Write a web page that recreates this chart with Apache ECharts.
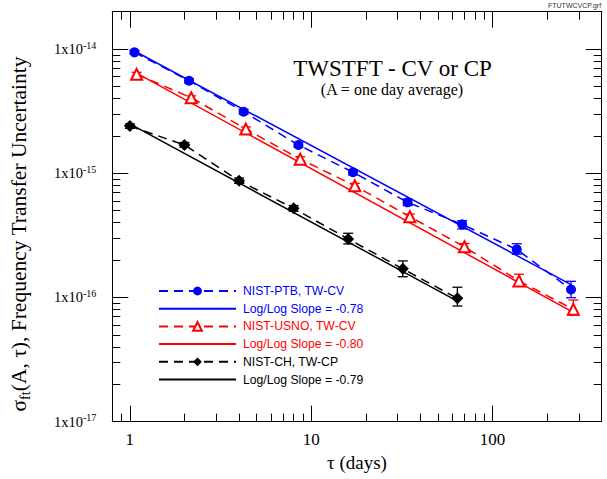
<!DOCTYPE html>
<html><head><meta charset="utf-8">
<script src="https://cdn.jsdelivr.net/npm/echarts@6/dist/echarts.min.js"></script>
<style>html,body{margin:0;padding:0;background:#fff}#c{width:607px;height:479px}</style>
</head><body><div id="c"></div>
<script>
// ---- tick values / labels ----
const xMajorTicks = [1, 10, 100];
const xMinorTicks = [0.9, 2, 3, 4, 5, 6, 7, 8, 9, 20, 30, 40, 50, 60, 70, 80, 90, 200, 300];
const yMajorTicks = [1e-16, 1e-15, 1e-14];
const yLabelTicks = [1e-17, 1e-16, 1e-15, 1e-14];
const yMinorTicks = [2e-17, 3e-17, 4e-17, 5e-17, 6e-17, 7e-17, 8e-17, 9e-17,
                     2e-16, 3e-16, 4e-16, 5e-16, 6e-16, 7e-16, 8e-16, 9e-16,
                     2e-15, 3e-15, 4e-15, 5e-15, 6e-15, 7e-15, 8e-15, 9e-15];

// ---- NIST-PTB, TW-CV ----
const ptbTau   = [1.06, 2.12, 4.24, 8.5, 17, 34, 68, 136, 271];
const ptbSigma = [9.42e-15, 5.56e-15, 3.13e-15, 1.69e-15, 1.02e-15, 5.84e-16, 3.88e-16, 2.44e-16, 1.16e-16];
const ptbLo    = [9.1e-15, 5.35e-15, 3.0e-15, 1.62e-15, 0.97e-15, 5.5e-16, 3.56e-16, 2.23e-16, 0.996e-16];
const ptbHi    = [9.75e-15, 5.78e-15, 3.27e-15, 1.77e-15, 1.07e-15, 6.2e-16, 4.15e-16, 2.71e-16, 1.35e-16];
const ptbFitTau = [1.06, 271];
const ptbFitSigma = [9.65e-15, 1.27e-16];

// ---- NIST-USNO, TW-CV ----
const usnoTau   = [1.09, 2.18, 4.36, 8.7, 17.4, 35, 70, 140, 279];
const usnoSigma = [6.26e-15, 4.06e-15, 2.27e-15, 1.30e-15, 7.94e-16, 4.47e-16, 2.56e-16, 1.36e-16, 8.03e-17];
const usnoLo    = [6.05e-15, 3.92e-15, 2.19e-15, 1.25e-15, 7.6e-16, 4.25e-16, 2.43e-16, 1.24e-16, 7.23e-17];
const usnoHi    = [6.5e-15, 4.2e-15, 2.36e-15, 1.36e-15, 8.3e-16, 4.7e-16, 2.72e-16, 1.54e-16, 9.54e-17];
const usnoFitTau = [1.09, 279];
const usnoFitSigma = [6.4e-15, 7.6e-17];

// ---- NIST-CH, TW-CP ----
const chTau   = [1, 2, 4, 8, 16, 32, 64];
const chSigma = [2.40e-15, 1.69e-15, 8.71e-16, 5.22e-16, 2.96e-16, 1.70e-16, 9.85e-17];
const chLo    = [2.3e-15, 1.62e-15, 8.3e-16, 4.95e-16, 2.70e-16, 1.47e-16, 8.54e-17];
const chHi    = [2.5e-15, 1.77e-15, 9.15e-16, 5.5e-16, 3.29e-16, 1.97e-16, 1.21e-16];
const chFitTau = [1, 64];
const chFitSigma = [2.5e-15, 9.35e-17];

const names = ['NIST-PTB, TW-CV', 'Log/Log Slope = -0.78', 'NIST-USNO, TW-CV',
               'Log/Log Slope = -0.80', 'NIST-CH, TW-CP', 'Log/Log Slope = -0.79'];

const SERIF = 'Liberation Serif';
const SANS = 'Liberation Sans';
const BLUE = '#0000ff', RED = '#ff0000', BLACK = '#000000';

const zip = (a, b) => a.map((v, i) => [v, b[i]]);

function xAx(pos, ticks, len, labels) {
  return {
    type: 'log', logBase: 10, min: 0.8, max: 400, position: pos,
    axisLine: { show: true, onZero: false, lineStyle: { color: '#000', width: 1 } },
    axisTick: { show: true, inside: true, length: len, customValues: ticks, lineStyle: { color: '#000', width: 1 } },
    axisLabel: labels ? { show: true, customValues: labels, margin: 9, fontFamily: SERIF, fontSize: 17, color: '#000' } : { show: false },
    splitLine: { show: false }, minorTick: { show: false }, minorSplitLine: { show: false }
  };
}
function yAx(pos, ticks, len, labels) {
  return {
    type: 'log', logBase: 10, min: 1e-17, max: 2e-14, position: pos,
    axisLine: { show: true, onZero: false, lineStyle: { color: '#000', width: 1 } },
    axisTick: { show: true, inside: true, length: len, customValues: ticks, lineStyle: { color: '#000', width: 1 } },
    axisLabel: labels ? {
      show: true, customValues: labels, margin: 16,
      formatter: v => '{m|1x10}{s|' + Math.round(Math.log10(v)) + '}',
      rich: {
        m: { fontFamily: SERIF, fontSize: 14.5, color: '#000', lineHeight: 18 },
        s: { fontFamily: SERIF, fontSize: 10, color: '#000', verticalAlign: 'top', lineHeight: 12 }
      }
    } : { show: false },
    splitLine: { show: false }, minorTick: { show: false }, minorSplitLine: { show: false }
  };
}

function errSeries(taus, lo, hi, color) {
  return {
    type: 'custom', name: 'err' + color, xAxisIndex: 0, yAxisIndex: 0, z: 2, silent: true,
    data: taus.map((t, i) => [t, lo[i], hi[i]]),
    encode: { x: 0, y: [1, 2] },
    renderItem: function (params, api) {
      const x = api.value(0);
      const p1 = api.coord([x, api.value(1)]);
      const p2 = api.coord([x, api.value(2)]);
      const w = 5;
      const st = { stroke: color, lineWidth: 1.3 };
      return { type: 'group', children: [
        { type: 'line', shape: { x1: p1[0], y1: p1[1], x2: p2[0], y2: p2[1] }, style: st },
        { type: 'line', shape: { x1: p1[0] - w, y1: p1[1], x2: p1[0] + w, y2: p1[1] }, style: st },
        { type: 'line', shape: { x1: p2[0] - w, y1: p2[1], x2: p2[0] + w, y2: p2[1] }, style: st }
      ] };
    }
  };
}

function dataSeries(name, taus, vals, color, symbol, size, hollow) {
  return {
    type: 'line', name, xAxisIndex: 0, yAxisIndex: 0, z: 4,
    data: zip(taus, vals), symbol, symbolSize: size, showSymbol: true,
    lineStyle: { color, width: 1.5, type: [9, 6] },
    itemStyle: hollow ? { color: '#fff', borderColor: color, borderWidth: 2 } : { color, borderColor: color, borderWidth: 0 }
  };
}
function fitSeries(name, taus, vals, color) {
  return {
    type: 'line', name, xAxisIndex: 0, yAxisIndex: 0, z: 3,
    data: zip(taus, vals), symbol: 'none', showSymbol: false,
    lineStyle: { color, width: 1.5, type: 'solid' }, itemStyle: { color }
  };
}

const chart = echarts.init(document.getElementById('c'), null, { renderer: 'svg' });
chart.setOption({
  animation: false,
  backgroundColor: '#fff',
  grid: { left: 112.3, right: 5.3, top: 11.7, bottom: 57.3, containLabel: false, outerBoundsMode: 'none' },
  xAxis: [
    Object.assign(xAx('bottom', xMajorTicks, 16, xMajorTicks), {
      name: 'τ (days)', nameLocation: 'middle', nameGap: 27,
      nameTextStyle: { fontFamily: SERIF, fontSize: 19, color: '#000' }
    }),
    xAx('bottom', xMinorTicks, 8, null),
    xAx('top', xMajorTicks, 16, null),
    xAx('top', xMinorTicks, 8, null)
  ],
  yAxis: [
    yAx('left', yMajorTicks, 16, yLabelTicks),
    yAx('left', yMinorTicks, 8, null),
    yAx('right', yMajorTicks, 16, null),
    yAx('right', yMinorTicks, 8, null)
  ],
  legend: {
    orient: 'vertical', left: 153, top: 280,
    itemWidth: 77, itemHeight: 11, itemGap: 5.7,
    textStyle: { fontFamily: SANS, fontSize: 12.2, lineHeight: 11, padding: [0, 0, 0, 2] },
    data: [
      { name: names[0], textStyle: { color: BLUE } },
      { name: names[1], textStyle: { color: BLUE }, itemStyle: { opacity: 0 } },
      { name: names[2], textStyle: { color: RED } },
      { name: names[3], textStyle: { color: RED }, itemStyle: { opacity: 0 } },
      { name: names[4], textStyle: { color: BLACK } },
      { name: names[5], textStyle: { color: BLACK }, itemStyle: { opacity: 0 } }
    ],
    selectedMode: false
  },
  graphic: [
    { type: 'text', x: 392.5, y: 68.5, style: { text: 'TWSTFT - CV or CP', fontFamily: SERIF, fontSize: 23, fill: '#000', align: 'center', verticalAlign: 'middle' } },
    { type: 'text', x: 392, y: 89.5, style: { text: '(A = one day average)', fontFamily: SERIF, fontSize: 16, fill: '#000', align: 'center', verticalAlign: 'middle' } },
    { type: 'text', x: 548, y: 1.5, style: { text: 'FTUTWCVCP.grf', fontFamily: SANS, fontSize: 7, fill: '#333', align: 'left', verticalAlign: 'top' } },
    { type: 'text', x: 19, y: 234, rotation: Math.PI / 2,
      style: {
        text: '{a|σ}{b|ft}{a|(A, τ), Frequency Transfer Uncertainty}',
        align: 'center', verticalAlign: 'middle',
        rich: {
          a: { fontFamily: SERIF, fontSize: 21.5, fill: '#000', lineHeight: 26 },
          b: { fontFamily: SERIF, fontSize: 14, fill: '#000', verticalAlign: 'bottom', lineHeight: 20 }
        }
      } }
  ],
  series: [
    errSeries(ptbTau, ptbLo, ptbHi, BLUE),
    errSeries(usnoTau, usnoLo, usnoHi, RED),
    errSeries(chTau, chLo, chHi, BLACK),
    dataSeries(names[0], ptbTau, ptbSigma, BLUE, 'circle', 10, false),
    fitSeries(names[1], ptbFitTau, ptbFitSigma, BLUE),
    dataSeries(names[2], usnoTau, usnoSigma, RED, 'triangle', 11, true),
    fitSeries(names[3], usnoFitTau, usnoFitSigma, RED),
    dataSeries(names[4], chTau, chSigma, BLACK, 'diamond', 12, false),
    fitSeries(names[5], chFitTau, chFitSigma, BLACK)
  ]
});
</script></body></html>
